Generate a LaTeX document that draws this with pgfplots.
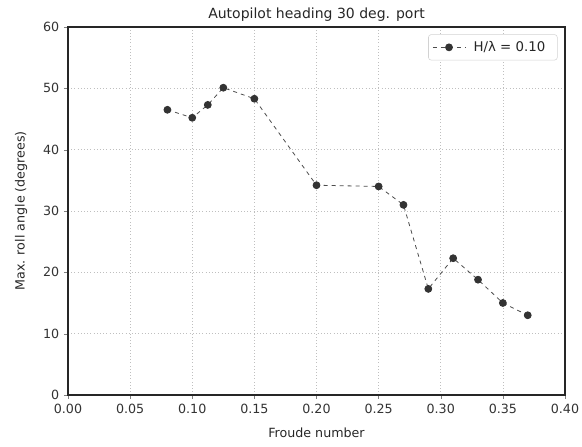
\documentclass[border=0pt]{standalone}
\usepackage{pgfplots}
\pgfplotsset{compat=1.18}
\usepackage{fontspec}
\setmainfont{DejaVu Sans}
\usetikzlibrary{calc}
\begin{document}
\begin{tikzpicture}
\begin{axis}[
  scale only axis,
  width=372.75pt, height=276pt,
  xmin=0, xmax=0.40, ymin=0, ymax=60,
  xtick={0,0.05,...,0.40},
  ytick={0,10,...,60},
  xticklabel style={/pgf/number format/.cd,fixed,fixed zerofill,precision=2},
  /pgf/number format/assume math mode=true,
  tick label style={font=\fontsize{9.5}{11}\selectfont, text=black!80},
  label style={font=\fontsize{9.5}{11}\selectfont, text=black!85},
  title style={font=\fontsize{10.5}{12}\selectfont, text=black!85, yshift=-5pt},
  title={Autopilot heading 30 deg. port},
  xlabel={Froude number},
  ylabel={Max. roll angle (degrees)},
  xlabel style={yshift=-4pt},
  ylabel style={yshift=5pt},
  grid=major,
  grid style={dotted, gray!50},
  tick align=outside,
  tick pos=left,
  major tick length=3pt,
  axis line style={black!85, line width=0.8pt},
  legend style={draw=gray!35, rounded corners=2pt, font=\fontsize{10}{12}\selectfont, text=black!85, inner sep=3pt, at={(0.985,0.98)}, anchor=north east,
    nodes={inner xsep=6pt}},
  legend cell align=left,
  legend image code/.code={
    \draw[#1,mark=none] (0cm,0cm) -- (0.85cm,0cm);
    \draw[#1,only marks] plot coordinates {(0.425cm,0cm)};
  },
]
\addplot[dashed, black!70, line width=0.6pt, mark=*, mark size=2.6pt, mark options={solid, fill=black!80, draw=black!80}]
coordinates {
(0.08,46.5)
(0.10,45.2)
(0.1125,47.3)
(0.125,50.1)
(0.15,48.3)
(0.20,34.2)
(0.25,34.0)
(0.27,31.0)
(0.29,17.3)
(0.31,22.3)
(0.33,18.8)
(0.35,15.0)
(0.37,13.0)
};
\addlegendentry{H/λ = 0.10}
\end{axis}
\pgfresetboundingbox
\path ($(current axis.south west)+(-51pt,-39pt)$) rectangle ($(current axis.north east)+(12.75pt,20.25pt)$);
\end{tikzpicture}
\end{document}
